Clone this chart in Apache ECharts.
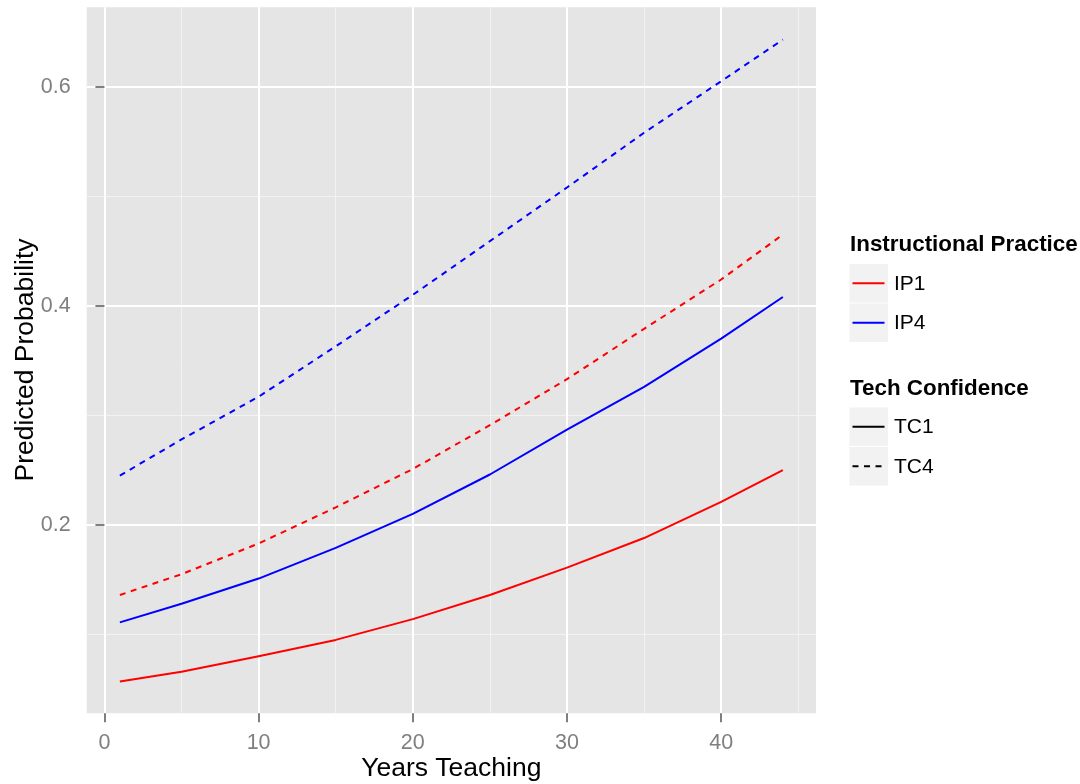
<!DOCTYPE html>
<html><head><meta charset="utf-8">
<script src="https://cdn.jsdelivr.net/npm/echarts@6/dist/echarts.min.js"></script>
<style>html,body{margin:0;padding:0;background:#fff}#c{width:1080px;height:784px}</style>
</head><body><div id="c"></div>
<script>
const years   = [1, 5, 10, 15, 20, 25, 30, 35, 40, 44];
const ip1_tc1 = [0.057, 0.066, 0.080, 0.095, 0.114, 0.136, 0.161, 0.188, 0.221, 0.250];
const ip4_tc1 = [0.111, 0.128, 0.151, 0.179, 0.210, 0.246, 0.287, 0.326, 0.370, 0.408];
const ip1_tc4 = [0.136, 0.155, 0.183, 0.216, 0.251, 0.291, 0.333, 0.379, 0.424, 0.465];
const ip4_tc4 = [0.245, 0.278, 0.317, 0.363, 0.410, 0.459, 0.508, 0.558, 0.605, 0.643];
const xMajorTicks = [0, 10, 20, 30, 40];
const xMinorTicks = [5, 15, 25, 35, 45];
const yMajorTicks = [0.2, 0.4, 0.6];
const yMinorTicks = [0.1, 0.3, 0.5];
const ipNames = ['IP1', 'IP4'];
const tcNames = ['TC1', 'TC4'];

const FONT = "'Liberation Sans', Arial, sans-serif";
const RED = '#FF0000', BLUE = '#0000FF';
const DASH = [6, 5.5];
const X_MIN = -1.15, X_MAX = 46.15, Y_MIN = 0.028, Y_MAX = 0.6725;

const pairs = arr => years.map((x, i) => [x, arr[i]]);
function mkSeries(name, arr, color, dashed) {
  return {
    name, type: 'line', data: pairs(arr), xAxisIndex: 0, yAxisIndex: 0,
    showSymbol: false, symbol: 'none', smooth: false, z: 5,
    lineStyle: { color, width: 2, type: dashed ? DASH : 'solid', join: 'round' },
    emphasis: { disabled: true }
  };
}

const chart = echarts.init(document.getElementById('c'), null, { renderer: 'canvas' });

const legendGraphics = [];
function legendTitle(text, y) {
  legendGraphics.push({ type: 'text', x: 850, y, style: { text, font: 'bold 22.4px ' + FONT, fill: '#000', align: 'left', verticalAlign: 'middle' } });
}
function legendKey(label, y, color, dashed) {
  legendGraphics.push({ type: 'rect', shape: { x: 849.5, y: y, width: 38.5, height: 38.5 }, style: { fill: '#F2F2F2' } });
  legendGraphics.push({ type: 'line', shape: { x1: 852.5, y1: y + 19.25, x2: 884.5, y2: y + 19.25 }, style: { stroke: color, lineWidth: 1.8, lineDash: dashed ? DASH : null } });
  legendGraphics.push({ type: 'text', x: 894, y: y + 20, style: { text: label, font: '21px ' + FONT, fill: '#000', align: 'left', verticalAlign: 'middle' } });
}
legendTitle('Instructional Practice', 245);
legendKey(ipNames[0], 264, RED, false);
legendKey(ipNames[1], 303.5, BLUE, false);
legendTitle('Tech Confidence', 389);
legendKey(tcNames[0], 407.5, '#000', false);
legendKey(tcNames[1], 447, '#000', true);

const option = {
  animation: false,
  backgroundColor: '#FFFFFF',
  grid: { left: 86.7, right: 264, top: 7.3, bottom: 70.7, show: true, backgroundColor: '#E5E5E5', borderWidth: 0 },
  xAxis: [
    {
      type: 'value', min: X_MIN, max: X_MAX, position: 'bottom',
      axisLine: { show: false },
      axisTick: { show: true, customValues: xMajorTicks, length: 9, lineStyle: { color: '#7F7F7F', width: 2 } },
      axisLabel: { customValues: xMajorTicks, margin: 19, color: '#7F7F7F', fontSize: 21.5, fontFamily: FONT },
      splitLine: { show: true, lineStyle: { color: '#FFFFFF', width: 2 } },
      z: 3
    },
    {
      type: 'value', min: X_MIN, max: X_MAX, position: 'bottom',
      axisLine: { show: false },
      axisTick: { show: false, customValues: xMinorTicks },
      axisLabel: { show: false, customValues: xMinorTicks },
      splitLine: { show: true, lineStyle: { color: '#F2F2F2', width: 1 } },
      z: 2
    }
  ],
  yAxis: [
    {
      type: 'value', min: Y_MIN, max: Y_MAX, position: 'left',
      axisLine: { show: false },
      axisTick: { show: true, customValues: yMajorTicks, length: 9, lineStyle: { color: '#7F7F7F', width: 2 } },
      axisLabel: { customValues: yMajorTicks, margin: 16, color: '#7F7F7F', fontSize: 21.5, fontFamily: FONT, formatter: v => v.toFixed(1) },
      splitLine: { show: true, lineStyle: { color: '#FFFFFF', width: 2 } },
      z: 3
    },
    {
      type: 'value', min: Y_MIN, max: Y_MAX, position: 'left',
      axisLine: { show: false },
      axisTick: { show: false, customValues: yMinorTicks },
      axisLabel: { show: false, customValues: yMinorTicks },
      splitLine: { show: true, lineStyle: { color: '#F2F2F2', width: 1 } },
      z: 2
    }
  ],
  series: [
    mkSeries('IP1 TC1', ip1_tc1, RED, false),
    mkSeries('IP4 TC1', ip4_tc1, BLUE, false),
    mkSeries('IP1 TC4', ip1_tc4, RED, true),
    mkSeries('IP4 TC4', ip4_tc4, BLUE, true)
  ],
  graphic: [
    { type: 'text', x: 451.3, y: 769, style: { text: 'Years Teaching', font: '26.5px ' + FONT, fill: '#000', align: 'center', verticalAlign: 'middle' } },
    { type: 'text', x: 26, y: 360, rotation: Math.PI / 2, style: { text: 'Predicted Probability', font: '26.5px ' + FONT, fill: '#000', align: 'center', verticalAlign: 'middle' } }
  ].concat(legendGraphics)
};
chart.setOption(option);
</script>
</body></html>
